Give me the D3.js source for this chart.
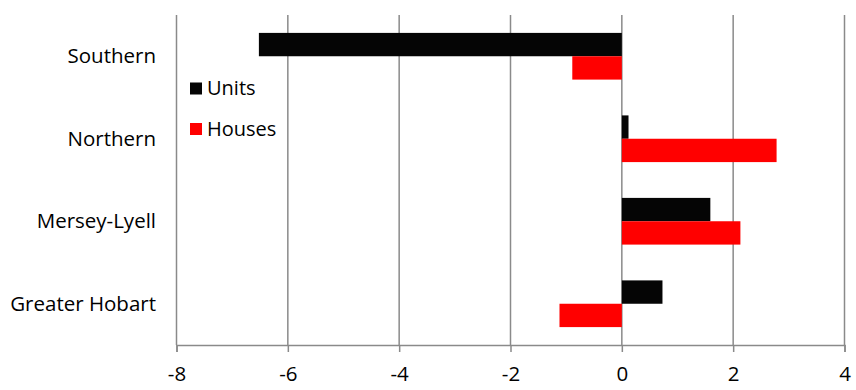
<!DOCTYPE html>
<html>
<head>
<meta charset="utf-8">
<script src="https://cdn.jsdelivr.net/npm/d3@7"></script>
<style>
  body { margin: 0; background: #fff; }
  svg { display: block; }
  text { font-family: "Open Sans", sans-serif; fill: #000; }
</style>
</head>
<body>
<svg id="chart" width="856" height="390"></svg>
<script>
const categories = ["Southern", "Northern", "Mersey-Lyell", "Greater Hobart"];
const seriesNames = ["Units", "Houses"];
const units = [-6.52, 0.12, 1.59, 0.73];
const houses = [-0.89, 2.78, 2.13, -1.12];
const xTicks = [-8, -6, -4, -2, 0, 2, 4];
const colors = ["#050505", "#ff0000"];

const svg = d3.select("#chart");
const margin = { left: 176.5, right: 11.5, top: 15, bottom: 45 };
const W = 856, H = 390;

const x = d3.scaleLinear().domain([-8, 4]).range([margin.left, W - margin.right]);
const y = d3.scaleBand().domain(categories).range([margin.top, H - margin.bottom])
  .paddingInner(0.434).paddingOuter(0.217);
const ySub = d3.scaleBand().domain(seriesNames).range([0, y.bandwidth()]);

const gridColor = "#8a8a8a";

// gridlines
svg.append("g").selectAll("line").data(xTicks).join("line")
  .attr("x1", d => x(d)).attr("x2", d => x(d))
  .attr("y1", margin.top).attr("y2", H - margin.bottom)
  .attr("stroke", gridColor).attr("stroke-width", 1.5);

// bars
const data = categories.map((c, i) => ({ cat: c, vals: [units[i], houses[i]] }));
const groups = svg.append("g").selectAll("g").data(data).join("g")
  .attr("transform", d => `translate(0,${y(d.cat)})`);
groups.selectAll("rect")
  .data(d => d.vals.map((v, j) => ({ v, s: seriesNames[j], j })))
  .join("rect")
  .attr("x", d => Math.min(x(0), x(d.v)))
  .attr("width", d => Math.abs(x(d.v) - x(0)))
  .attr("y", d => ySub(d.s))
  .attr("height", ySub.bandwidth())
  .attr("fill", d => colors[d.j]);

// x axis
const xAxis = d3.axisBottom(x).tickValues(xTicks).tickSize(7).tickPadding(14)
  .tickFormat(d => d < 0 ? "-" + Math.abs(d) : String(d));
const gx = svg.append("g").attr("transform", `translate(0,${H - margin.bottom})`).call(xAxis);
gx.select(".domain").attr("stroke", gridColor).attr("stroke-width", 1.5);
gx.selectAll(".tick line").attr("stroke", gridColor).attr("stroke-width", 1.5);
gx.selectAll(".tick text").attr("font-family", "Open Sans, sans-serif")
  .attr("font-size", 20.5).attr("fill", "#000");

// category labels
svg.append("g").selectAll("text").data(categories).join("text")
  .attr("x", 156)
  .attr("y", d => y(d) + y.bandwidth() / 2)
  .attr("dy", "0.35em")
  .attr("text-anchor", "end")
  .attr("font-size", 20.5)
  .text(d => d);

// legend
const legend = svg.append("g").attr("transform", "translate(190,0)");
const legendY = [82.5, 123];
seriesNames.forEach((s, i) => {
  legend.append("rect").attr("x", 0).attr("y", legendY[i]).attr("width", 12).attr("height", 12)
    .attr("fill", colors[i]);
  legend.append("text").attr("x", 17).attr("y", legendY[i] + 12.5)
    .attr("font-size", 20).text(s);
});
</script>
</body>
</html>
